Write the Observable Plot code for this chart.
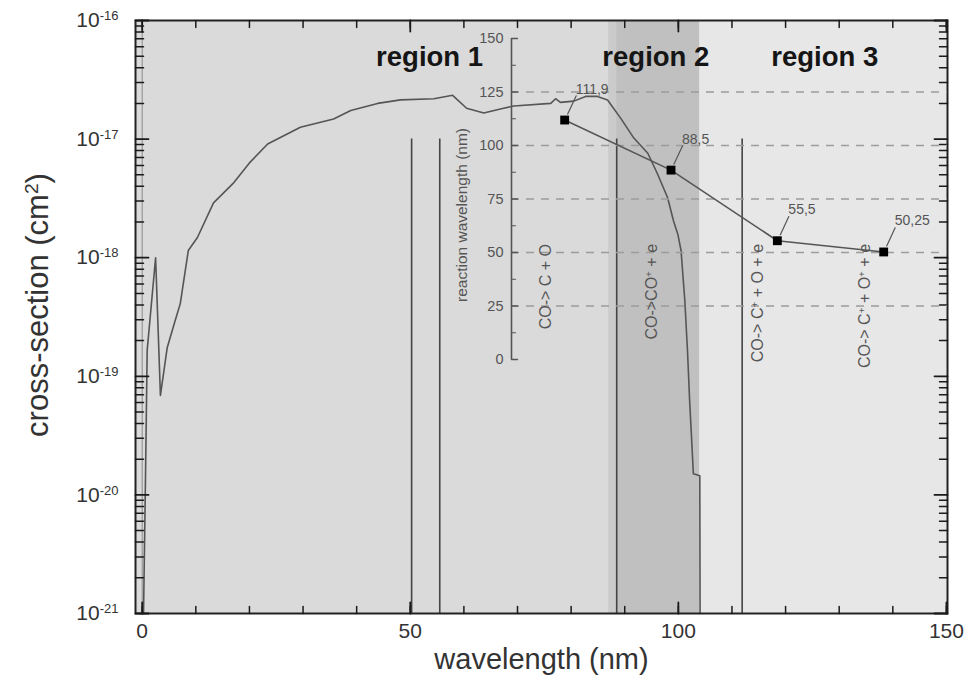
<!DOCTYPE html>
<html>
<head>
<meta charset="utf-8">
<script src="https://cdn.jsdelivr.net/npm/d3@7"></script>
<script src="https://cdn.jsdelivr.net/npm/@observablehq/plot@0.6"></script>
<style>
  html, body { margin: 0; padding: 0; background: #fff; overflow: hidden; }
  #chart { position: relative; width: 973px; height: 696px; }
  #chart svg { position: absolute; left: 0; top: 0; max-width: none; }
</style>
</head>
<body>
<div id="chart"></div>
<script>
// CO photo-absorption cross-section (cm^2) against wavelength (nm)
const crossWavelength = [
  0.25, 0.6, 0.93, 2.5, 3.4, 4.66, 6.0, 7.1, 8.6, 10.3, 13.3, 17.1, 20.0, 23.4,
  29.5, 35.7, 38.9, 43.9, 48.2, 54.4, 57.9, 60.5, 63.7, 67.4, 69.3, 76.2, 77.1,
  78.0, 80.5, 82.7, 84.9, 86.8, 89.2, 91.7, 94.3, 96.1, 98.0, 99.1, 99.9, 100.5,
  101.2, 101.7, 102.1, 102.5, 102.8, 104.0, 104.05
];
const crossSection = [
  1e-21, 1.26e-20, 1.66e-19, 1.0e-18, 6.9e-20, 1.74e-19, 2.8e-19, 4.1e-19, 1.15e-18, 1.48e-18,
  2.9e-18, 4.3e-18, 6.3e-18, 9.1e-18, 1.26e-17, 1.48e-17, 1.74e-17, 2.0e-17, 2.14e-17, 2.19e-17,
  2.34e-17, 1.82e-17, 1.66e-17, 1.82e-17, 1.9e-17, 2.0e-17, 2.19e-17, 2.04e-17, 2.09e-17, 2.29e-17,
  2.29e-17, 2.14e-17, 1.51e-17, 1.02e-17, 7.6e-18, 5.1e-18, 3.2e-18, 2.04e-18, 1.58e-18, 1.15e-18,
  4.4e-19, 1.66e-19, 6.3e-20, 2.8e-20, 1.51e-20, 1.45e-20, 1e-21
];

// Dissociation / ionisation channels and their threshold wavelengths (nm)
const reactionLabels = ["CO-> C + O", "CO->CO^+ + e", "CO-> C^+ + O + e", "CO-> C^+ + O^+ + e"];
const reactionWavelength = [111.9, 88.5, 55.5, 50.25];
const reactionValueLabels = ["111,9", "88,5", "55,5", "50,25"];

// Spectral regions
const regionNames = ["region 1", "region 2", "region 3"];
const regionEdges = [87, 104];
const regionLabelAt = [53.6, 95.8, 127.3];

// Axis ticks
const xTicks = [0, 50, 100, 150];
const xMinorTicks = d3.range(0, 151, 10);
const yTicks = [1e-21, 1e-20, 1e-19, 1e-18, 1e-17, 1e-16];
const yTickLabels = ["10^-21", "10^-20", "10^-19", "10^-18", "10^-17", "10^-16"];
const yMinorTicks = d3.range(-21, -16).flatMap(e => d3.range(2, 10).map(m => m * Math.pow(10, e)));
const insetTicks = [0, 25, 50, 75, 100, 125, 150];
const insetMinorTicks = [12.5, 37.5, 62.5, 87.5, 112.5, 137.5];
const insetGrid = [25, 50, 75, 100, 125];

const W = 973, H = 696;
const FONT = 'Arial, "Liberation Sans", Helvetica, sans-serif';
const xDomain = [-1.25, 150.2];

// a plain stroke from the anchor point, turned by the vector's rotate angle
const stroke1 = {draw(context, l) { context.moveTo(0, 0); context.lineTo(0, -l); }};
// inward-pointing ticks along one side of the frame
function ticks(data, channel, side, length, strokeWidth, color) {
  const rotate = {left: 90, right: -90, bottom: 0, top: 180}[side];
  return Plot.vector(data, {[channel]: d => d, frameAnchor: side, length, rotate, anchor: "start",
    shape: stroke1, stroke: color, strokeWidth});
}

const curve = crossWavelength.map((w, i) => ({w, s: crossSection[i]}));
const regions = [
  {x1: regionEdges[0], x2: reactionWavelength[1], fill: "#cbcbcb"},
  {x1: reactionWavelength[1], x2: regionEdges[1], fill: "#c0c0c0"},
  {x1: regionEdges[1], x2: xDomain[1], fill: "#e7e7e7"}
];
const regionText = regionNames.map((name, i) => ({name, x: regionLabelAt[i]}));
const TICK = "#1a1a1a";

const main = Plot.plot({
  width: W, height: H,
  marginLeft: 135, marginRight: 26, marginTop: 20, marginBottom: 83,
  style: {fontFamily: FONT, color: "#333", background: "transparent"},
  x: {domain: xDomain},
  y: {type: "log", domain: [1e-21, 1e-16]},
  marks: [
    Plot.frame({fill: "#dadada"}),
    Plot.rect(regions, {x1: "x1", x2: "x2", fill: "fill"}),
    Plot.ruleX([0], {stroke: "#8a8a8a", strokeWidth: 1}),
    Plot.ruleX(reactionWavelength, {y1: 1e-21, y2: 1e-17, stroke: "#444", strokeWidth: 1.6}),
    Plot.line(curve, {x: "w", y: "s", stroke: "#555", strokeWidth: 1.6}),
    Plot.frame({stroke: "#222", strokeWidth: 2}),
    // inward ticks on all four sides
    ticks(yTicks, "y", "left", 13, 1.8, TICK),
    ticks(yMinorTicks, "y", "left", 8, 1.5, TICK),
    ticks(yTicks, "y", "right", 13, 1.8, TICK),
    ticks(yMinorTicks, "y", "right", 8, 1.5, TICK),
    ticks(xMinorTicks, "x", "bottom", 7, 1.5, TICK),
    ticks(xTicks, "x", "bottom", 11, 1.8, TICK),
    ticks(xMinorTicks, "x", "top", 7, 1.5, TICK),
    ticks(xTicks, "x", "top", 11, 1.8, TICK),
    // tick labels
    Plot.axisY(yTicks, {anchor: "left", tickSize: 0, tickPadding: 17, fontSize: 21, label: null,
      tickFormat: d => yTickLabels[yTicks.indexOf(d)]}),
    Plot.axisX(xTicks, {anchor: "bottom", tickSize: 0, tickPadding: 10, fontSize: 21, label: null}),
    // axis titles
    Plot.text(["wavelength (nm)"], {frameAnchor: "bottom", dy: 55, fontSize: 29, fill: "#333"}),
    Plot.text(["cross-section (cm^2)"], {frameAnchor: "left", textAnchor: "middle", rotate: -90,
      dx: -97, dy: -12, fontSize: 31, fill: "#333"}),
    // region names
    Plot.text(regionText, {x: "x", text: "name", frameAnchor: "top", dy: 26, fontSize: 27.5, fontWeight: "bold", fill: "#151515"})
  ]
});

// inset: threshold wavelength of each reaction channel
const insetXDomain = [0.5, 4.6];
const insetPts = reactionWavelength.map((v, i) => ({
  i: i + 1, v, label: reactionValueLabels[i], reaction: reactionLabels[i]
}));

const inset = Plot.plot({
  width: W, height: H,
  marginLeft: 511, marginRight: 26, marginTop: 38, marginBottom: 337,
  style: {fontFamily: FONT, color: "#555", background: "transparent", overflow: "visible"},
  x: {domain: insetXDomain, axis: null},
  y: {domain: [0, 150]},
  marks: [
    Plot.ruleY(insetGrid, {stroke: "#9c9c9c", strokeWidth: 1.4, strokeDasharray: "8,7"}),
    Plot.ruleX([insetXDomain[0]], {stroke: "#555", strokeWidth: 1.6}),
    ticks(insetTicks, "y", "left", 6, 1.4, "#555"),
    ticks(insetMinorTicks, "y", "left", 4, 1.2, "#555"),
    Plot.axisY(insetTicks, {anchor: "left", tickSize: 0, tickPadding: 8, fontSize: 14.5, label: null}),
    Plot.text(["reaction wavelength (nm)"], {frameAnchor: "left", textAnchor: "middle", rotate: -90,
      dx: -49, dy: 16, fontSize: 15.5, fill: "#555"}),
    Plot.text(insetPts, {x: "i", y: 54, text: "reaction", rotate: -90, textAnchor: "end", dx: -19, fontSize: 16, fill: "#555"}),
    Plot.line(insetPts, {x: "i", y: "v", stroke: "#555", strokeWidth: 1.6}),
    Plot.dot(insetPts, {x: "i", y: "v", symbol: "square", fill: "#000", r: 5}),
    Plot.vector(insetPts, {x: "i", y: "v", length: 20, rotate: 25, anchor: "start", dx: 3, dy: -6,
      shape: stroke1, stroke: "#555", strokeWidth: 1.2}),
    Plot.text(insetPts, {x: "i", y: "v", text: "label", textAnchor: "start", dx: 11, dy: -31, fontSize: 14, fill: "#555"})
  ]
});

// turn "^x" markers into raised, smaller tspans
function supify(svg) {
  svg.querySelectorAll("text").forEach(t => {
    const s = t.textContent;
    if (!s.includes("^")) return;
    t.textContent = "";
    s.split(/\^([^\s)]+)/).forEach((p, k) => {
      if (!p) return;
      const ts = document.createElementNS("http://www.w3.org/2000/svg", "tspan");
      ts.textContent = p;
      if (k % 2 === 1) {
        ts.setAttribute("baseline-shift", "super");
        ts.setAttribute("font-size", "62%");
      }
      t.appendChild(ts);
    });
  });
}
supify(main);
supify(inset);

const root = document.getElementById("chart");
root.appendChild(main);
root.appendChild(inset);
</script>
</body>
</html>
